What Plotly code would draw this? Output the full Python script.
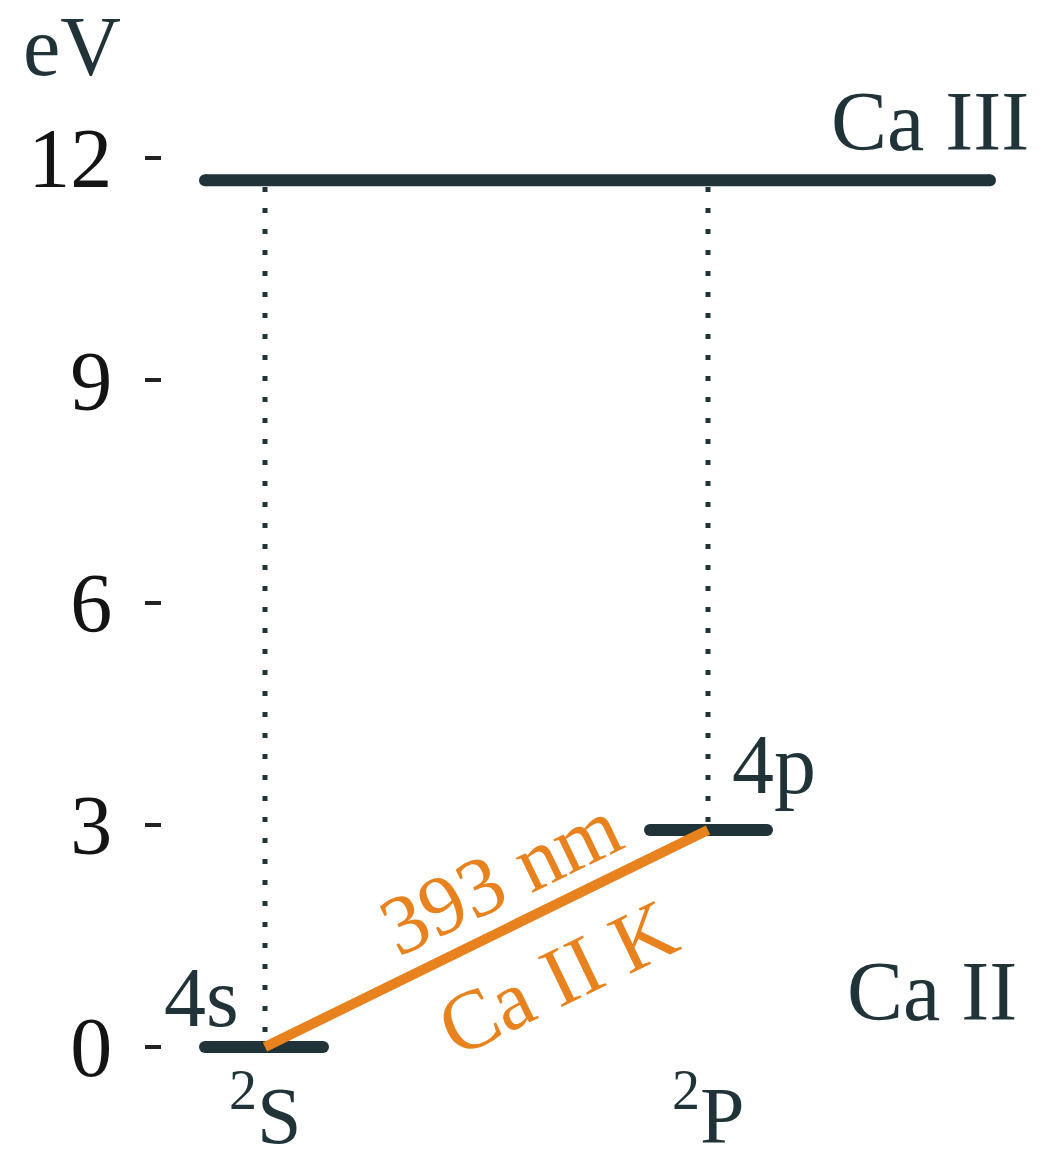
import plotly.graph_objects as go

# ---- data ----
tick_vals = [0, 3, 6, 9, 12]
tick_text = ["0", "3", "6", "9", "12"]

level_names = ["4s", "4p", "Ca III"]
level_energy = [0.0, 2.93, 11.7]          # eV
level_x0 = [205, 650, 205]                 # horizontal extent (arbitrary units)
level_x1 = [323, 767, 990]
term_x = [265, 708]                        # 2S, 2P columns
term_labels = ["<sup>2</sup>S", "<sup>2</sup>P"]

transition_label_top = "393 nm"
transition_label_bottom = "Ca II K"

DARK = "#1f3338"
ORANGE = "#E8821E"
FONT = "Liberation Serif, Times New Roman, serif"

fig = go.Figure()

# dotted verticals from ionisation level down to each term level
for i, xv in enumerate(term_x):
    fig.add_trace(go.Scatter(
        x=[xv, xv], y=[level_energy[2] - 0.09, level_energy[i] + 0.08],
        mode="lines", line=dict(color=DARK, width=5, dash="5px,16px"),
        hoverinfo="skip", showlegend=False))

# levels
for i in range(3):
    fig.add_trace(go.Scatter(
        x=[level_x0[i], level_x1[i]], y=[level_energy[i], level_energy[i]],
        mode="lines+markers", line=dict(color=DARK, width=12),
        marker=dict(color=DARK, size=12),
        hoverinfo="skip", showlegend=False))

# Ca II K transition
fig.add_trace(go.Scatter(
    x=[term_x[0], term_x[1]], y=[level_energy[0], level_energy[1]],
    mode="lines", line=dict(color=ORANGE, width=10),
    hoverinfo="skip", showlegend=False))

ann = []
def A(x, y, t, color=DARK, size=84, angle=0, xref="x", yref="y"):
    ann.append(dict(x=x, y=y, text=t, xref=xref, yref=yref, showarrow=False,
                    font=dict(family=FONT, size=size, color=color),
                    textangle=angle, xanchor="center", yanchor="middle"))

PX_PER_EV = 74.08
def ypx(p):
    return (1047 - p) / PX_PER_EV

A((72 - 162) / 878, ypx(46), "eV", xref="paper")
A(930, ypx(121), "Ca III")
A(932, ypx(991), "Ca II")
A(774, ypx(764), "4p")
A(201, ypx(997), "4s")
A(term_x[0], ypx(1109), term_labels[0], size=80)
A(term_x[1], ypx(1109), term_labels[1], size=80)
A(500, ypx(876), transition_label_top, color=ORANGE, size=84, angle=-25.8)
A(557, ypx(977), transition_label_bottom, color=ORANGE, size=84, angle=-25.8)

fig.update_layout(
    width=1040, height=1156,
    margin=dict(l=162, r=0, t=0, b=0),
    paper_bgcolor="white", plot_bgcolor="white",
    annotations=ann,
    xaxis=dict(range=[162, 1040], visible=False, fixedrange=True),
    yaxis=dict(range=[-(1156 - 1047) / PX_PER_EV, 1047 / PX_PER_EV],
               tickvals=tick_vals, ticktext=tick_text,
               ticks="outside", ticklen=16, tickwidth=4, tickcolor="#222",
               ticklabelstandoff=16,
               tickfont=dict(family=FONT, size=84, color="#141414"),
               showgrid=False, zeroline=False, showline=False, fixedrange=True),
)

fig.write_html("out.html")
